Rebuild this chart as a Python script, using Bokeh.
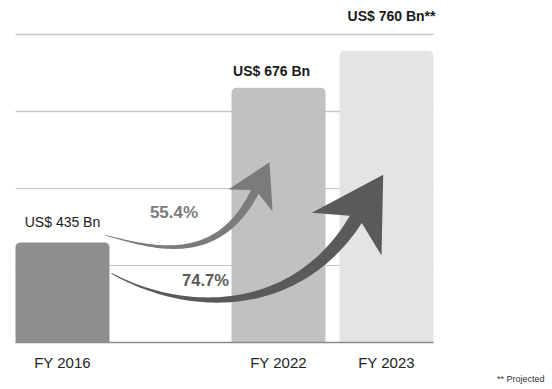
import math
import numpy as np
from bokeh.plotting import figure
from bokeh.models import Range1d
from bokeh.core.properties import value
from bokeh.embed import file_html
from bokeh.resources import INLINE

# ---------------- data ----------------
years = ["FY 2016", "FY 2022", "FY 2023"]
market_size = [435, 676, 760]            # US$ Bn
projected = [False, False, True]
bar_heights = [1.30, 3.31, 3.79]         # drawn heights (grid units) - chart is not to scale
grid_levels = [1, 2, 3, 4]
growth_from = [0, 0]
growth_to = [1, 2]
growth_labels = ["55.4%", "74.7%"]
footnote = "** Projected"

value_labels = ["US$ %d Bn%s" % (v, "**" if pr else "") for v, pr in zip(market_size, projected)]

# ---------------- layout / style ----------------
W, H = 552, 389
SX, SY = 108.0, 77.0                      # px per data unit
slot = [0, 2, 3]                          # slot of each bar (a gap before FY 2022)
BW = 0.87                                 # bar width in slots
X0 = -62.0 / SX
X1 = X0 + W / SX
Y1 = 342.0 / SY
Y0 = Y1 - H / SY
FONT = value("Liberation Sans")

bar_colors = ["#8e8e8e", "#c1c1c1", "#e4e4e4"]
label_align = ["center", "left", "right"]
label_dx = [0, 1.5, 2.0]                  # px, from centre / left edge / right edge
label_dy = [-20, -17, -35]                # px above bar top (negative = up)
label_style = ["normal", "bold", "bold"]

arrow_style = [
    dict(tail=(-4, -7), tip=(-9, 74.6), ang_tail=12.9, ang_tip=63.6, L0=36, L1=90,
         Lh=42.8, hw=24.7, notch=9.7, w0=0.6, w1=8.5, color="#7b7b7b", lab=(68.5, -23.3), size="17px"),
    dict(tail=(2, 31), tip=(-3.3, 124.1), ang_tail=28.6, ang_tip=58.4, L0=90, L1=110,
         Lh=69.7, hw=40.9, notch=17.4, w0=1.0, w1=14.0, color="#5a5a5a", lab=(94, 7), size="16.5px"),
]


def to_px(x, y):
    return (x - X0) * SX, (Y1 - y) * SY


def to_data(px, py):
    return X0 + px / SX, Y1 - py / SY


def bar_px(i):
    left, top = to_px(slot[i] - BW / 2, bar_heights[i])
    right, _ = to_px(slot[i] + BW / 2, 0)
    cx, _ = to_px(slot[i], 0)
    return left, right, cx, top


def arrow_polygon(P0, T, st, n=60):
    P0 = np.array(P0, float)
    T = np.array(T, float)
    a1 = math.radians(st["ang_tip"])
    a0 = math.radians(st["ang_tail"])
    u = np.array([math.cos(a1), -math.sin(a1)])
    d0 = np.array([math.cos(a0), math.sin(a0)])
    P3 = T - u * (st["Lh"] - st["notch"])
    P1 = P0 + d0 * st["L0"]
    P2 = P3 - u * st["L1"]
    t = np.linspace(0, 1, n)[:, None]
    B = (1 - t) ** 3 * P0 + 3 * (1 - t) ** 2 * t * P1 + 3 * (1 - t) * t ** 2 * P2 + t ** 3 * P3
    D = 3 * (1 - t) ** 2 * (P1 - P0) + 6 * (1 - t) * t * (P2 - P1) + 3 * t ** 2 * (P3 - P2)
    D = D / np.linalg.norm(D, axis=1)[:, None]
    nl = np.column_stack([D[:, 1], -D[:, 0]])
    w = (st["w0"] + (st["w1"] - st["w0"]) * t[:, 0] ** 1.2) / 2
    left = B + nl * w[:, None]
    right = B - nl * w[:, None]
    nh = np.array([u[1], -u[0]])
    Bh = T - u * st["Lh"]
    pts = np.vstack([left, [Bh + nh * st["hw"]], [T], [Bh - nh * st["hw"]], right[::-1]])
    xs, ys = to_data(pts[:, 0], pts[:, 1])
    return list(xs), list(ys)


p = figure(width=W, height=H, x_range=Range1d(X0, X1), y_range=Range1d(Y0, Y1),
           output_backend="svg", toolbar_location=None, min_border=0,
           x_axis_location=None, y_axis_location=None, outline_line_color=None)
p.grid.visible = False
p.background_fill_color = "white"
p.border_fill_color = "white"

# gridlines (behind bars), spanning the bars' extent
gl_left = slot[0] - BW / 2
gl_right = slot[-1] + BW / 2
p.segment(x0=[gl_left] * len(grid_levels), x1=[gl_right] * len(grid_levels),
          y0=grid_levels, y1=grid_levels, line_color="#c8c8c8",
          line_width=[1.0, 1.0, 1.4, 1.4])

# bars
p.vbar(x=slot, top=bar_heights, bottom=0, width=BW, fill_color=bar_colors,
       line_color=None, border_radius=(5, 5, 0, 0))

# baseline
p.segment(x0=[gl_left], x1=[gl_right], y0=[0], y1=[0], line_color="#8a8a8a", line_width=1.4)

# growth arrows
for k in range(len(growth_labels)):
    st = arrow_style[k]
    sl, sr, sc, stop = bar_px(growth_from[k])
    tl, tr, tc, ttop = bar_px(growth_to[k])
    tail = (sr + st["tail"][0], stop + st["tail"][1])
    tip = (tc + st["tip"][0], ttop + st["tip"][1])
    xs, ys = arrow_polygon(tail, tip, st)
    p.patch(xs, ys, fill_color=st["color"], line_color=None)
    lx, ly = to_data(tail[0] + st["lab"][0], tail[1] + st["lab"][1])
    p.text(x=[lx], y=[ly], text=[growth_labels[k]], text_font=FONT, text_font_style="bold",
           text_font_size=st["size"], text_color=st["color"], text_align="center",
           text_baseline="middle")

# value labels above bars
for i in range(len(years)):
    l, r, c, top = bar_px(i)
    ax = {"center": c, "left": l, "right": r}[label_align[i]] + label_dx[i]
    lx, ly = to_data(ax, top + label_dy[i])
    p.text(x=[lx], y=[ly], text=[value_labels[i]], text_font=FONT,
           text_font_style=label_style[i], text_font_size="14px", text_color="#1a1a1a",
           text_align=label_align[i], text_baseline="middle")

# category labels
_, base_py = to_px(0, 0)
_, cat_y = to_data(0, base_py + 20)
p.text(x=slot, y=[cat_y] * len(years), text=years, text_font=FONT, text_font_size="15px",
       text_color="#222222", text_align="center", text_baseline="middle")

# footnote
fx, fy = to_data(544, 378)
p.text(x=[fx], y=[fy], text=[footnote], text_font=FONT, text_font_size="9px",
       text_color="#333333", text_align="right", text_baseline="middle")

open("out.html", "w").write(file_html(p, INLINE))
